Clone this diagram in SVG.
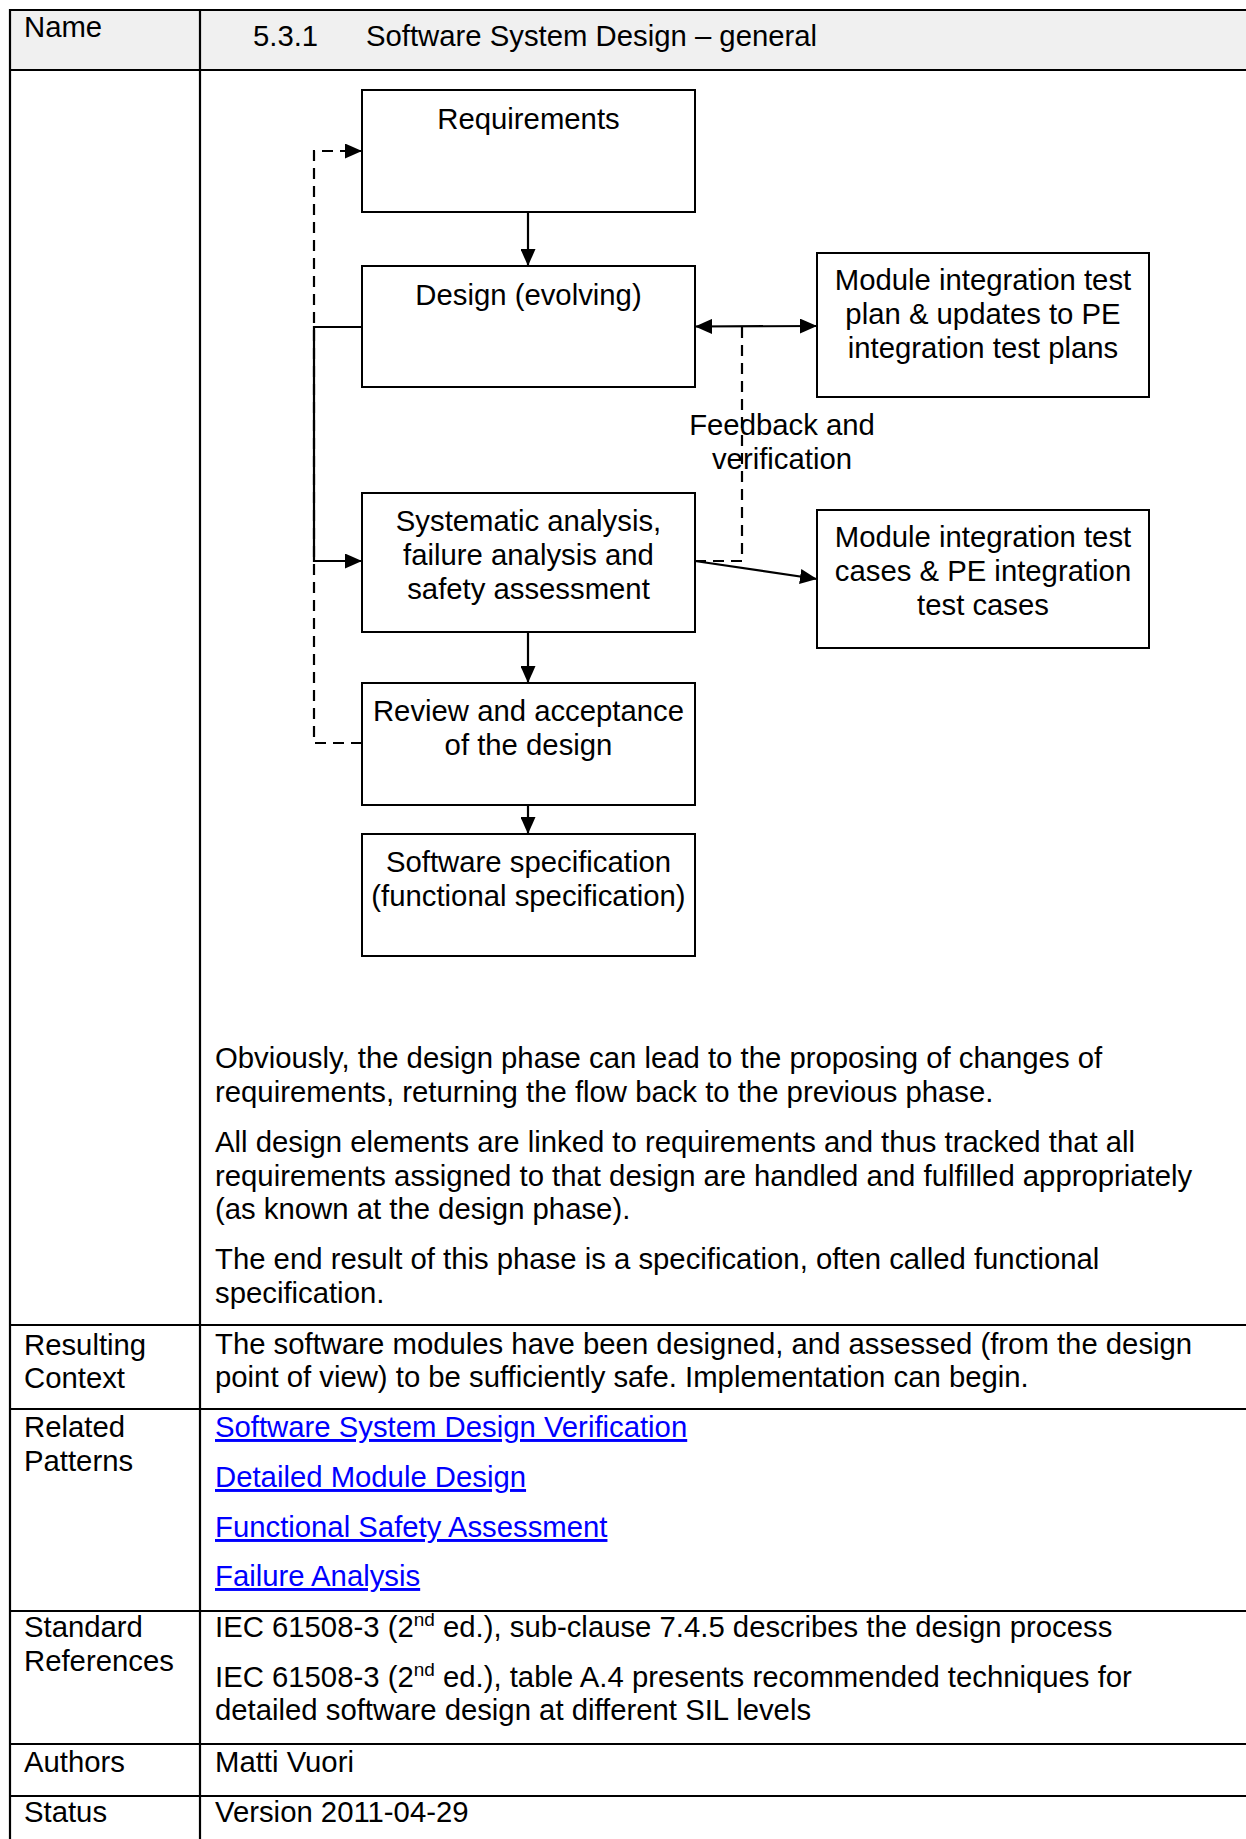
<svg xmlns="http://www.w3.org/2000/svg" width="1246" height="1839" viewBox="0 0 1246 1839">
  <style>
    text { font-family: "Liberation Sans", Arial, sans-serif; font-size: 29.3px; fill: #000; }
    .c { text-anchor: middle; }
    .link { fill: #0000ff; text-decoration: underline; }
    .grid { stroke: #000; stroke-width: 2.2; fill: none; }
    .box { fill: #fff; stroke: #000; stroke-width: 2; }
    .solid { fill: none; stroke: #000; stroke-width: 2.2; }
    .dash { fill: none; stroke: #000; stroke-width: 2.2; stroke-dasharray: 11 7; }
  </style>
  <defs>
    <marker id="arrow" viewBox="0 0 17 15" refX="17" refY="7.5" markerWidth="17" markerHeight="15" markerUnits="userSpaceOnUse" orient="auto-start-reverse">
      <path d="M0,0 L17,7.5 L0,15 z" fill="#000"/>
    </marker>
  </defs>

  <rect width="1246" height="1839" fill="#fff"/>

  <!-- table frame -->
  <g id="table">
    <rect x="10" y="10" width="1240" height="60" fill="#f0f0f0"/>
    <path class="grid" d="M9,10 H1250 M9,70 H1250 M9,1325 H1250 M9,1409 H1250 M9,1611 H1250 M9,1744 H1250 M9,1796 H1250 M10,9 V1839 M200,9 V1839"/>
  </g>

  <!-- header row -->
  <g id="header">
    <text x="24" y="37">Name</text>
    <text x="253" y="46">5.3.1</text>
    <text x="366" y="46">Software System Design – general</text>
  </g>

  <!-- connectors -->
  <g id="connectors">
    <path class="solid" d="M528,212 V266" marker-end="url(#arrow)"/>
    <path class="dash" d="M362,743 H314 V151 H362" marker-end="url(#arrow)"/>
    <path class="solid" d="M362,327 H314 V561 H362" marker-end="url(#arrow)"/>
    <path class="solid" d="M695,326.5 L817,326" marker-start="url(#arrow)" marker-end="url(#arrow)"/>
    <path class="dash" d="M742,327 V561 H695"/>
    <path class="solid" d="M695,561 L817,579" marker-end="url(#arrow)"/>
    <path class="solid" d="M528,632 V683" marker-end="url(#arrow)"/>
    <path class="solid" d="M528,805 V834" marker-end="url(#arrow)"/>
    <text class="c" x="782" y="435">Feedback and</text>
    <text class="c" x="782" y="469">verification</text>
  </g>

  <!-- process boxes -->
  <g id="requirements">
    <rect class="box" x="362" y="90" width="333" height="122"/>
    <text class="c" x="528.5" y="129">Requirements</text>
  </g>
  <g id="design">
    <rect class="box" x="362" y="266" width="333" height="121"/>
    <text class="c" x="528.5" y="305">Design (evolving)</text>
  </g>
  <g id="analysis">
    <rect class="box" x="362" y="493" width="333" height="139"/>
    <text class="c" x="528.5" y="531">Systematic analysis,</text>
    <text class="c" x="528.5" y="565">failure analysis and</text>
    <text class="c" x="528.5" y="599">safety assessment</text>
  </g>
  <g id="review">
    <rect class="box" x="362" y="683" width="333" height="122"/>
    <text class="c" x="528.5" y="721">Review and acceptance</text>
    <text class="c" x="528.5" y="755">of the design</text>
  </g>
  <g id="specification">
    <rect class="box" x="362" y="834" width="333" height="122"/>
    <text class="c" x="528.5" y="872">Software specification</text>
    <text class="c" x="528.5" y="906">(functional specification)</text>
  </g>
  <g id="test-plan">
    <rect class="box" x="817" y="253" width="332" height="144"/>
    <text class="c" x="983" y="290">Module integration test</text>
    <text class="c" x="983" y="324">plan &amp; updates to PE</text>
    <text class="c" x="983" y="358">integration test plans</text>
  </g>
  <g id="test-cases">
    <rect class="box" x="817" y="510" width="332" height="138"/>
    <text class="c" x="983" y="547">Module integration test</text>
    <text class="c" x="983" y="581">cases &amp; PE integration</text>
    <text class="c" x="983" y="615">test cases</text>
  </g>

  <!-- description -->
  <g id="description">
    <text x="215" y="1068">Obviously, the design phase can lead to the proposing of changes of</text>
    <text x="215" y="1102">requirements, returning the flow back to the previous phase.</text>
    <text x="215" y="1152">All design elements are linked to requirements and thus tracked that all</text>
    <text x="215" y="1186">requirements assigned to that design are handled and fulfilled appropriately</text>
    <text x="215" y="1219">(as known at the design phase).</text>
    <text x="215" y="1269">The end result of this phase is a specification, often called functional</text>
    <text x="215" y="1303">specification.</text>
  </g>

  <!-- remaining rows -->
  <g id="resulting-context">
    <text x="24" y="1355">Resulting</text>
    <text x="24" y="1388">Context</text>
    <text x="215" y="1354">The software modules have been designed, and assessed (from the design</text>
    <text x="215" y="1387">point of view) to be sufficiently safe. Implementation can begin.</text>
  </g>
  <g id="related-patterns">
    <text x="24" y="1437">Related</text>
    <text x="24" y="1471">Patterns</text>
    <text class="link" x="215" y="1437">Software System Design Verification</text>
    <text class="link" x="215" y="1487">Detailed Module Design</text>
    <text class="link" x="215" y="1537">Functional Safety Assessment</text>
    <text class="link" x="215" y="1586">Failure Analysis</text>
  </g>
  <g id="standard-references">
    <text x="24" y="1637">Standard</text>
    <text x="24" y="1671">References</text>
    <text x="215" y="1637">IEC 61508-3 (2<tspan font-size="19" dy="-11">nd</tspan><tspan dy="11"> ed.), sub-clause 7.4.5 describes the design process</tspan></text>
    <text x="215" y="1687">IEC 61508-3 (2<tspan font-size="19" dy="-11">nd</tspan><tspan dy="11"> ed.), table A.4 presents recommended techniques for</tspan></text>
    <text x="215" y="1720">detailed software design at different SIL levels</text>
  </g>
  <g id="authors">
    <text x="24" y="1772">Authors</text>
    <text x="215" y="1772">Matti Vuori</text>
  </g>
  <g id="status">
    <text x="24" y="1822">Status</text>
    <text x="215" y="1822">Version 2011-04-29</text>
  </g>
</svg>
